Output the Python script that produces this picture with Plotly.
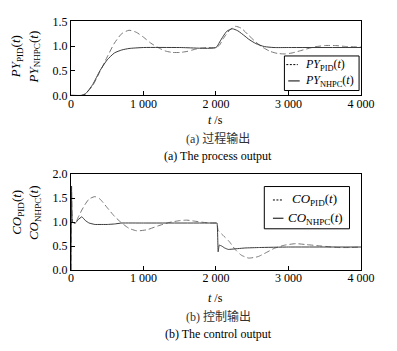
import plotly.graph_objects as go

# ---- data ----
t_py_pid = [0, 150, 200, 300, 400, 500, 600, 700, 800, 900, 1000, 1100, 1200, 1300, 1400, 1500,
            1600, 1700, 1800, 1900, 2000, 2050, 2100, 2200, 2270, 2350, 2450, 2550, 2650, 2750,
            2850, 2950, 3050, 3200, 3350, 3500, 3650, 3800, 4000]
py_pid = [0, 0, 0.03, 0.2, 0.48, 0.78, 1.06, 1.25, 1.32, 1.28, 1.18, 1.06, 0.97, 0.9, 0.87, 0.87,
          0.89, 0.93, 0.96, 0.97, 0.97, 1.02, 1.15, 1.34, 1.40, 1.36, 1.22, 1.08, 0.97, 0.89,
          0.85, 0.84, 0.86, 0.92, 0.98, 1.01, 1.01, 0.99, 0.98]

t_py_nhpc = [0, 150, 200, 300, 400, 500, 600, 700, 800, 1000, 1500, 2000, 2050, 2100, 2150,
             2225, 2300, 2400, 2450, 2550, 2666, 2800, 3000, 4000]
py_nhpc = [0, 0, 0.03, 0.22, 0.5, 0.72, 0.86, 0.92, 0.95, 0.97, 0.97, 0.97, 1.08, 1.2, 1.3,
           1.35, 1.31, 1.2, 1.14, 1.05, 0.99, 0.97, 0.97, 0.97]

t_co_pid = [0, 8, 25, 60, 100, 150, 200, 250, 330, 400, 500, 600, 700, 800, 900, 950, 1050,
            1200, 1350, 1500, 1600, 1700, 1850, 1950, 2000, 2015, 2030, 2100, 2180, 2270, 2350,
            2450, 2580, 2700, 2800, 2950, 3100, 3250, 3460, 3680, 3850, 4000]
co_pid = [0, 1.75, 1.0, 0.97, 1.1, 1.25, 1.38, 1.48, 1.53, 1.48, 1.3, 1.12, 0.98, 0.87, 0.82, 0.82, 0.84,
          0.92, 0.99, 1.03, 1.04, 1.02, 0.99, 0.98, 0.98, 0.96, 0.83, 0.72, 0.6, 0.42, 0.31,
          0.25, 0.28, 0.37, 0.45, 0.52, 0.55, 0.53, 0.5, 0.47, 0.47, 0.48]

t_co_nhpc = [0, 8, 20, 60, 100, 150, 200, 250, 330, 400, 500, 600, 700, 1000, 2000, 2015,
             2030, 2045, 2080, 2120, 2170, 2250, 2400, 2600, 3000, 4000]
co_nhpc = [0, 1.75, 1.0, 0.98, 1.05, 1.11, 1.03, 0.98, 0.95, 0.95, 0.95, 0.96, 0.98, 0.98, 0.98, 0.98,
           0.38, 0.52, 0.5, 0.46, 0.43, 0.44, 0.46, 0.47, 0.48, 0.48]

x_tickvals = [0, 1000, 2000, 3000, 4000]
x_ticktext = ["0", "1 000", "2 000", "3 000", "4 000"]
y1_tickvals = [0, 0.5, 1.0, 1.5]
y1_ticktext = ["0.0", "0.5", "1.0", "1.5"]
y2_tickvals = [0, 0.5, 1.0, 1.5, 2.0]
y2_ticktext = ["0.0", "0.5", "1.0", "1.5", "2.0"]

legend_top = ["<i>PY</i><sub>PID</sub>(<i>t</i>)", "<i>PY</i><sub>NHPC</sub>(<i>t</i>)"]
legend_bot = ["<i>CO</i><sub>PID</sub>(<i>t</i>)", "<i>CO</i><sub>NHPC</sub>(<i>t</i>)"]

W, H = 397, 351
FONT = "Liberation Serif, Times New Roman, serif"
CJKFONT = "Liberation Serif, Noto Sans CJK SC, serif"
SOLID = "#3a3a3a"
DASH = "#777777"
DASHPAT = "6px,3px"


def px(x):
    return x / W


def py(y):
    return 1 - y / H


fig = go.Figure()

fig.add_trace(go.Scatter(x=t_py_pid, y=py_pid, mode="lines",
                         line=dict(color=DASH, width=1, dash=DASHPAT, shape="spline", smoothing=0.6),
                         name=legend_top[0], xaxis="x", yaxis="y"))
fig.add_trace(go.Scatter(x=t_py_nhpc, y=py_nhpc, mode="lines",
                         line=dict(color=SOLID, width=1, shape="spline", smoothing=0.6),
                         name=legend_top[1], xaxis="x", yaxis="y"))
fig.add_trace(go.Scatter(x=t_co_pid, y=co_pid, mode="lines",
                         line=dict(color=DASH, width=1, dash=DASHPAT, shape="spline", smoothing=0.5),
                         name=legend_bot[0], xaxis="x2", yaxis="y2"))
fig.add_trace(go.Scatter(x=t_co_nhpc, y=co_nhpc, mode="lines",
                         line=dict(color=SOLID, width=1, shape="spline", smoothing=0.3),
                         name=legend_bot[1], xaxis="x2", yaxis="y2"))

axis_common = dict(showline=True, linecolor="black", linewidth=1, mirror=True,
                   ticks="inside", ticklen=4, tickcolor="black", showgrid=False,
                   zeroline=False, tickfont=dict(family=FONT, size=12, color="black"))

fig.update_layout(
    width=W, height=H, margin=dict(l=0, r=0, t=0, b=0),
    paper_bgcolor="white", plot_bgcolor="white",
    font=dict(family=FONT, size=12, color="black"),
    showlegend=False,
    xaxis=dict(domain=[px(71), px(374)], range=[0, 4000], anchor="y",
               tickvals=x_tickvals, ticktext=x_ticktext, ticklabelstandoff=-3, **axis_common),
    yaxis=dict(domain=[py(92), py(15)], range=[0, 1.5], anchor="x",
               tickvals=y1_tickvals, ticktext=y1_ticktext, **axis_common),
    xaxis2=dict(domain=[px(71), px(374)], range=[0, 4000], anchor="y2",
                tickvals=x_tickvals, ticktext=x_ticktext, ticklabelstandoff=-3, **axis_common),
    yaxis2=dict(domain=[py(274), py(174)], range=[0, 2.0], anchor="x2",
                tickvals=y2_tickvals, ticktext=y2_ticktext, **axis_common),
)

# manual legends (box, line samples, labels) in paper coordinates
shapes = [
    dict(type="rect", x0=px(294), x1=px(372), y0=py(51), y1=py(87),
         line=dict(color="black", width=1), fillcolor="white"),
    dict(type="line", x0=px(296), x1=px(308), y0=py(60), y1=py(60),
         line=dict(color="black", width=1, dash="2px,1.5px")),
    dict(type="line", x0=px(298), x1=px(310), y0=py(77), y1=py(77),
         line=dict(color="black", width=1)),
    dict(type="rect", x0=px(273), x1=px(362), y0=py(187), y1=py(231),
         line=dict(color="black", width=1), fillcolor="white"),
    dict(type="line", x0=px(282), x1=px(293), y0=py(201), y1=py(201),
         line=dict(color="black", width=1, dash="2px,1.5px")),
    dict(type="line", x0=px(282), x1=px(293), y0=py(220), y1=py(220),
         line=dict(color="black", width=1)),
]
for s in shapes:
    s.update(xref="paper", yref="paper", layer="above")
fig.update_layout(shapes=shapes)

annots = [
    dict(x=px(313), y=py(60), text=legend_top[0], xanchor="left", font=dict(family=FONT, size=12)),
    dict(x=px(313), y=py(77), text=legend_top[1], xanchor="left", font=dict(family=FONT, size=12)),
    dict(x=px(300), y=py(201), text=legend_bot[0], xanchor="left", font=dict(family=FONT, size=13)),
    dict(x=px(296), y=py(220), text=legend_bot[1], xanchor="left", font=dict(family=FONT, size=13)),
    dict(x=px(222), y=py(118), text="<i>t</i> /s", font=dict(family=FONT, size=12)),
    dict(x=px(225), y=py(137), text="(a) 过程输出", font=dict(family=CJKFONT, size=12, color="#333")),
    dict(x=px(225), y=py(155), text="(a) The process output", font=dict(family=FONT, size=12)),
    dict(x=px(222), y=py(303), text="<i>t</i> /s", font=dict(family=FONT, size=12)),
    dict(x=px(225), y=py(322), text="(b) 控制输出", font=dict(family=CJKFONT, size=12, color="#333")),
    dict(x=px(225), y=py(341), text="(b) The control output", font=dict(family=FONT, size=12)),
    dict(x=px(15), y=py(52), text=legend_top[0], textangle=-90, font=dict(family=FONT, size=13)),
    dict(x=px(33), y=py(52), text=legend_top[1], textangle=-90, font=dict(family=FONT, size=13)),
    dict(x=px(15), y=py(214), text=legend_bot[0], textangle=-90, font=dict(family=FONT, size=13)),
    dict(x=px(33), y=py(214), text=legend_bot[1], textangle=-90, font=dict(family=FONT, size=13)),
]
for a in annots:
    a.setdefault("xanchor", "center")
    a.update(xref="paper", yref="paper", showarrow=False, yanchor="middle")
fig.update_layout(annotations=annots)

fig.write_html("out.html")
